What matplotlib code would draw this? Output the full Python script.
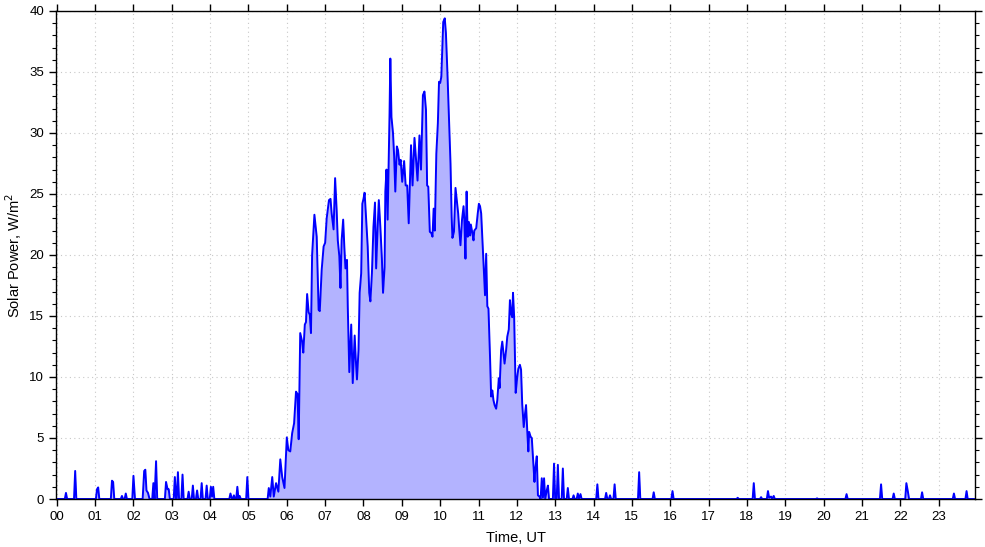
import matplotlib
matplotlib.use("Agg")
import matplotlib.pyplot as plt
from matplotlib.ticker import MultipleLocator, FixedLocator

# ---- data (hours UT, solar power W/m^2) ----
am_hours = [0.00, 0.21, 0.24, 0.27, 0.45, 0.48, 0.51,
            1.02, 1.05, 1.08, 1.11, 1.41, 1.44, 1.47, 1.50,
            1.67, 1.70, 1.73, 1.77, 1.80, 1.83, 1.97, 2.00, 2.04,
            2.24, 2.28, 2.31, 2.34, 2.38, 2.42, 2.49, 2.52, 2.55, 2.59, 2.62,
            2.82, 2.85, 2.89, 2.92, 2.95, 3.05, 3.08, 3.11, 3.13, 3.16, 3.19,
            3.25, 3.28, 3.31, 3.41, 3.44, 3.47, 3.52, 3.55, 3.58, 3.63, 3.66, 3.69,
            3.75, 3.78, 3.81, 3.88, 3.91, 3.94, 3.99, 4.02, 4.05, 4.08, 4.11,
            4.50, 4.53, 4.56, 4.59, 4.62, 4.65, 4.68, 4.71, 4.74, 4.77, 4.80,
            4.94, 4.97, 5.00, 5.50]
am_power = [0, 0, 0.5, 0, 0, 2.3, 0,
            0, 0.8, 0.95, 0, 0, 1.5, 1.4, 0,
            0, 0.25, 0, 0, 0.45, 0, 0, 1.9, 0,
            0, 2.3, 2.4, 0.7, 0.5, 0, 0, 1.3, 0, 3.1, 0,
            0, 1.4, 0.8, 0.8, 0, 0, 1.8, 0, 0, 2.2, 0,
            0, 2.0, 0, 0, 0.6, 0, 0, 1.1, 0, 0, 0.7, 0,
            0, 1.3, 0, 0, 1.1, 0, 0, 1.0, 0.2, 1.0, 0,
            0, 0.45, 0.1, 0, 0.3, 0, 0, 1.0, 0, 0.25, 0,
            0, 1.8, 0, 0]

day_hours = [5.53, 5.57, 5.62, 5.66, 5.72, 5.78, 5.83, 5.88, 5.94,
             6.00, 6.04, 6.09, 6.14, 6.19, 6.24, 6.28, 6.31, 6.35, 6.40, 6.43, 6.47, 6.50,
             6.53, 6.57, 6.60, 6.63, 6.66, 6.72, 6.78, 6.83, 6.86, 6.91, 6.96,
             7.00, 7.04, 7.10, 7.14, 7.17, 7.22, 7.26, 7.30, 7.33, 7.37, 7.40, 7.43, 7.47,
             7.50, 7.53, 7.57, 7.59, 7.63, 7.68, 7.72, 7.77, 7.80, 7.83, 7.87, 7.90, 7.94, 7.97,
             8.00, 8.03, 8.07, 8.11, 8.15, 8.18, 8.22, 8.26, 8.30, 8.33, 8.37, 8.40, 8.44, 8.48,
             8.51, 8.55, 8.57, 8.60, 8.63, 8.68, 8.70, 8.73, 8.77, 8.80, 8.83, 8.87, 8.90, 8.94, 8.97,
             9.01, 9.06, 9.10, 9.14, 9.18, 9.24, 9.28, 9.33, 9.37, 9.41, 9.46, 9.50, 9.55, 9.59,
             9.63, 9.66, 9.69, 9.73, 9.77, 9.80, 9.83, 9.86, 9.90, 9.94, 9.97,
             10.00, 10.03, 10.08, 10.12, 10.15, 10.19, 10.23, 10.27, 10.30, 10.32, 10.36, 10.40,
             10.43, 10.47, 10.50, 10.53, 10.57, 10.61, 10.63, 10.66, 10.69, 10.72, 10.75, 10.78,
             10.80, 10.84, 10.87, 10.89, 10.94, 10.98,
             11.01, 11.04, 11.07, 11.11, 11.14, 11.17, 11.20, 11.23, 11.26, 11.30, 11.33, 11.36,
             11.39, 11.42, 11.46, 11.49, 11.53, 11.55, 11.59, 11.62, 11.66, 11.68, 11.72, 11.75,
             11.79, 11.82, 11.85, 11.88, 11.90, 11.93, 11.95, 11.97,
             12.01, 12.04, 12.08, 12.11, 12.14, 12.18, 12.21, 12.24, 12.27, 12.30, 12.32, 12.36,
             12.39, 12.42, 12.46, 12.48, 12.52, 12.55, 12.59, 12.62, 12.65, 12.68, 12.71, 12.74,
             12.78, 12.81, 12.84, 12.94, 12.97,
             13.00, 13.04, 13.07, 13.10, 13.17, 13.20, 13.23, 13.30, 13.33, 13.36, 13.45, 13.48,
             13.51, 13.56, 13.59, 13.62, 13.66, 13.69]
day_power = [0.9, 0.2, 1.8, 0.2, 1.3, 0.6, 3.25, 1.8, 0.9,
             5.05, 4.0, 3.9, 5.4, 6.2, 8.8, 8.6, 4.9, 13.6, 12.9, 12.0, 14.3, 14.5,
             16.8, 15.3, 15.1, 13.6, 20.0, 23.3, 21.5, 15.5, 15.4, 18.8, 20.7,
             21.0, 23.0, 24.5, 24.6, 23.4, 22.1, 26.3, 23.7, 21.2, 19.9, 17.3, 21.2, 22.9,
             20.7, 18.9, 19.6, 15.8, 10.4, 14.3, 9.5, 13.4, 11.4, 9.8, 12.2, 16.9, 18.5, 24.2,
             24.6, 25.1, 22.9, 20.7, 16.9, 16.2, 18.5, 22.3, 24.3, 18.9, 22.3, 24.5, 22.3, 19.7,
             16.9, 19.0, 25.2, 27.0, 22.9, 31.6, 36.1, 31.3, 30.0, 28.1, 25.2, 28.9, 28.6, 27.4, 27.8,
             26.0, 27.7, 25.7, 25.7, 22.6, 29.0, 25.7, 29.6, 27.9, 26.1, 29.8, 27.0, 33.1, 33.4,
             31.9, 25.7, 25.6, 21.9, 21.8, 21.5, 23.8, 22.0, 28.3, 30.8, 34.2,
             34.1, 34.6, 39.1, 39.4, 38.2, 34.9, 31.1, 27.5, 23.1, 21.4, 21.9, 25.5,
             24.6, 23.4, 22.0, 20.8, 22.9, 24.0, 22.9, 19.7, 25.2, 21.5, 22.7, 21.6,
             22.5, 21.8, 21.2, 22.0, 22.2, 23.4,
             24.2, 24.0, 23.4, 20.7, 18.5, 16.7, 20.1, 15.8, 15.6, 11.7, 8.4, 8.9,
             8.1, 7.7, 7.4, 8.1, 9.9, 9.1, 12.2, 12.9, 11.7, 11.1, 12.2, 13.3,
             13.9, 16.3, 15.2, 14.9, 16.9, 14.9, 11.7, 8.7,
             10.0, 10.7, 11.0, 10.6, 7.8, 5.9, 6.9, 7.7, 5.7, 3.9, 5.5, 5.1,
             5.0, 3.5, 1.4, 2.4, 3.5, 0.3, 0.2, 0, 1.7, 0.1, 1.7, 0,
             0.7, 1.1, 0, 0, 2.9,
             0, 0, 2.8, 0, 0, 2.5, 0, 0, 0.9, 0, 0, 0.3,
             0, 0, 0.45, 0, 0.4, 0]

pm_hours = [14.07, 14.10, 14.13, 14.30, 14.33, 14.36, 14.40, 14.43, 14.46, 14.52, 14.55, 14.58,
            15.16, 15.19, 15.22, 15.54, 15.57, 15.60, 16.03, 16.06, 16.09,
            17.73, 17.76, 17.79, 18.15, 18.18, 18.21,
            18.34, 18.37, 18.40, 18.52, 18.55, 18.58, 18.63, 18.66, 18.70, 18.73,
            19.80, 19.83, 19.86, 20.57, 20.60, 20.63, 21.47, 21.50, 21.53, 21.80, 21.83, 21.86,
            22.13, 22.16, 22.20, 22.23, 22.54, 22.57, 22.60, 23.37, 23.40, 23.43,
            23.70, 23.73, 23.76, 23.95]
pm_power = [0, 1.2, 0, 0, 0.5, 0, 0, 0.3, 0, 0, 1.2, 0,
            0, 2.2, 0, 0, 0.55, 0, 0, 0.65, 0,
            0, 0.1, 0, 0, 1.3, 0,
            0, 0.15, 0, 0, 0.65, 0.1, 0.2, 0, 0.25, 0,
            0, 0.05, 0, 0, 0.4, 0, 0, 1.2, 0, 0, 0.45, 0,
            0, 1.3, 0.6, 0, 0, 0.55, 0, 0, 0.45, 0,
            0, 0.65, 0, 0]

hour_labels = ["%02d" % h for h in range(24)]

hours = am_hours + day_hours + pm_hours
power = am_power + day_power + pm_power

plt.rcParams['font.family'] = ['Liberation Sans', 'DejaVu Sans']

fig = plt.figure(figsize=(9.85, 5.47), dpi=100)
ax = fig.add_axes([56/985, 1 - 499/547, (975-56)/985, (499-11)/547])

ax.fill_between(hours, power, 0, color='#b3b3ff', linewidth=0)
ax.plot(hours, power, color='#0000ff', linewidth=1.4)

ax.set_xlim(-0.02, 23.95)
ax.set_ylim(0, 40)
ax.xaxis.set_major_locator(FixedLocator(list(range(24))))
ax.set_xticklabels(hour_labels)
ax.yaxis.set_major_locator(MultipleLocator(5))
ax.yaxis.set_minor_locator(MultipleLocator(1))

ax.grid(True, which='major', color='#c8c8c8', linestyle=(0, (1, 3)), linewidth=0.8)
ax.set_axisbelow(True)

ax.tick_params(axis='both', which='major', direction='out', length=5, width=1,
               labelsize=9.5, top=True, right=True, colors='black')
ax.tick_params(axis='y', which='minor', direction='out', length=3, width=0.8,
               right=True, left=True)
for s in ax.spines.values():
    s.set_linewidth(1)

ax.set_xlabel("Time, UT", fontsize=10.5, labelpad=6)
ax.set_ylabel("Solar Power, W/m$^2$", fontsize=10.5, labelpad=4)

fig.savefig("out.png", dpi=100)
